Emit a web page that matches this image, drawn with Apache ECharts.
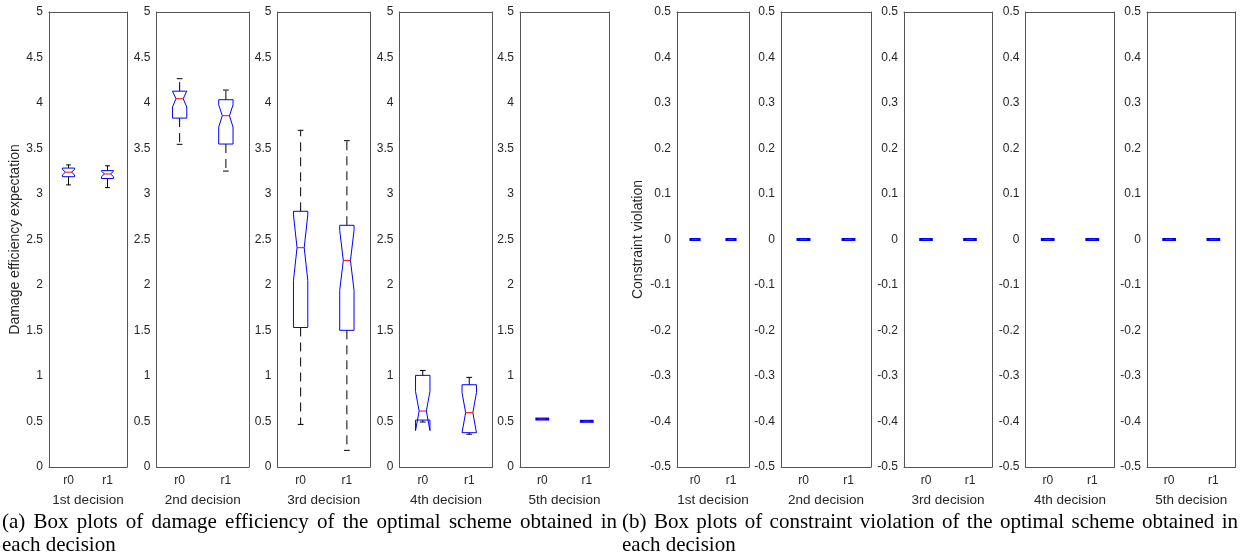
<!DOCTYPE html>
<html><head><meta charset="utf-8">
<script src="https://cdn.jsdelivr.net/npm/echarts@6/dist/echarts.min.js"></script>
<style>html,body{margin:0;padding:0;background:#fff}#c{width:1242px;height:560px}</style>
</head><body><div id="c"></div>
<script>
// ---------------- data ----------------
const categories = ['r0', 'r1'];
const decisions = ['1st decision', '2nd decision', '3rd decision', '4th decision', '5th decision'];
// each entry: [whiskerLow, q1, median, q3, whiskerHigh, notchLow, notchHigh]
const damageR0 = [
  [3.10, 3.19, 3.24, 3.285, 3.32, 3.21, 3.27],
  [3.546, 3.834, 4.047, 4.13, 4.267, 3.955, 4.13],
  [0.468, 1.533, 2.41, 2.81, 3.70, 2.05, 2.77],
  [0.494, 0.516, 0.615, 1.007, 1.061, 0.40, 0.83],
  [0.527, 0.527, 0.527, 0.527, 0.527, 0.527, 0.527]
];
const damageR1 = [
  [3.07, 3.17, 3.22, 3.257, 3.31, 3.19, 3.25],
  [3.252, 3.549, 3.86, 4.036, 4.142, 3.735, 3.98],
  [0.183, 1.502, 2.27, 2.656, 3.586, 1.94, 2.60],
  [0.36, 0.377, 0.597, 0.904, 0.985, 0.377, 0.817],
  [0.502, 0.502, 0.502, 0.502, 0.502, 0.502, 0.502]
];
const violationR0 = [
  [0, 0, 0, 0, 0, 0, 0], [0, 0, 0, 0, 0, 0, 0], [0, 0, 0, 0, 0, 0, 0],
  [0, 0, 0, 0, 0, 0, 0], [0, 0, 0, 0, 0, 0, 0]
];
const violationR1 = [
  [0, 0, 0, 0, 0, 0, 0], [0, 0, 0, 0, 0, 0, 0], [0, 0, 0, 0, 0, 0, 0],
  [0, 0, 0, 0, 0, 0, 0], [0, 0, 0, 0, 0, 0, 0]
];
const damageYTicks = [0, 0.5, 1, 1.5, 2, 2.5, 3, 3.5, 4, 4.5, 5];
const violationYTicks = [-0.5, -0.4, -0.3, -0.2, -0.1, 0, 0.1, 0.2, 0.3, 0.4, 0.5];
const damageYLabel = 'Damage efficiency expectation';
const violationYLabel = 'Constraint violation';
const captionA = ['(a) Box plots of damage efficiency of the optimal scheme obtained in', 'each decision'];
const captionB = ['(b) Box plots of constraint violation of the optimal scheme obtained in', 'each decision'];

// ---------------- layout / style ----------------
const SANS = '"Liberation Sans", Arial, sans-serif';
const SERIF = '"Liberation Serif", "Times New Roman", serif';
const axisColor = '#555';
const textColor = '#262626';
const leftPanels = [[49, 78], [156.5, 92.5], [277.5, 92.5], [399.5, 93], [520, 89]];
const rightPanels = [[677, 72], [781, 90], [904, 88], [1025.5, 89], [1147, 88.5]];
const TOP = 12, HEIGHT = 455;

const grids = [], xAxes = [], yAxes = [], series = [];

function renderBox(params, api) {
  const cat = api.value(0);
  const py = i => api.coord([cat, api.value(i)])[1];
  const cx = api.coord([cat, 0])[0];
  const band = api.size([1, 0])[0];
  const hw = band * 0.155, nw = hw * 0.5, cw = hw * 0.4;
  const wlo = py(1), q1 = py(2), med = py(3), q3 = py(4), whi = py(5), nlo = py(6), nhi = py(7);
  const ch = [];
  const dash = { stroke: '#000', lineWidth: 1, lineDash: [9, 6], fill: null };
  const solid = { stroke: '#000', lineWidth: 1, fill: null };
  if (q3 - whi > 0.5) {
    ch.push({ type: 'line', shape: { x1: cx, y1: q3, x2: cx, y2: whi }, style: dash });
    ch.push({ type: 'line', shape: { x1: cx - cw, y1: whi, x2: cx + cw, y2: whi }, style: solid });
  }
  if (wlo - q1 > 0.5) {
    ch.push({ type: 'line', shape: { x1: cx, y1: q1, x2: cx, y2: wlo }, style: dash });
    ch.push({ type: 'line', shape: { x1: cx - cw, y1: wlo, x2: cx + cw, y2: wlo }, style: solid });
  }
  if (Math.abs(q1 - q3) < 0.5) {
    ch.push({ type: 'line', shape: { x1: cx - hw, y1: med, x2: cx + hw, y2: med }, style: { stroke: '#0000ff', lineWidth: 3 } });
    ch.push({ type: 'line', shape: { x1: cx - nw, y1: med, x2: cx + nw, y2: med }, style: { stroke: '#b0105a', lineWidth: 1 } });
  } else {
    ch.push({
      type: 'polygon',
      shape: { points: [
        [cx - hw, q3], [cx + hw, q3], [cx + hw, nhi], [cx + nw, med], [cx + hw, nlo], [cx + hw, q1],
        [cx - hw, q1], [cx - hw, nlo], [cx - nw, med], [cx - hw, nhi]
      ] },
      style: { stroke: '#0000ff', lineWidth: 1, fill: null }
    });
    ch.push({ type: 'line', shape: { x1: cx - nw, y1: med, x2: cx + nw, y2: med }, style: { stroke: '#ff0000', lineWidth: 1 } });
  }
  return { type: 'group', children: ch };
}

function addPanel(pos, idx, r0, r1, ticks, yName, yNameGap, name) {
  const g = grids.length;
  grids.push({ left: pos[0], top: TOP, width: pos[1], height: HEIGHT, containLabel: false });
  const tickStyle = { inside: true, length: 5, lineStyle: { color: axisColor, width: 1 } };
  const lineStyle = { show: true, onZero: false, lineStyle: { color: axisColor, width: 1 } };
  xAxes.push({
    gridIndex: g, type: 'category', data: categories, position: 'bottom', boundaryGap: true,
    axisLine: lineStyle, axisTick: Object.assign({ alignWithLabel: true }, tickStyle),
    axisLabel: { color: textColor, fontSize: 12, fontFamily: SANS, margin: 8 },
    splitLine: { show: false },
    name: name, nameLocation: 'middle', nameGap: 26,
    nameTextStyle: { color: textColor, fontSize: 13.5, fontFamily: SANS }
  });
  xAxes.push({
    gridIndex: g, type: 'category', data: categories, position: 'top', boundaryGap: true,
    axisLine: lineStyle, axisTick: Object.assign({ alignWithLabel: true }, tickStyle),
    axisLabel: { show: false }, splitLine: { show: false }
  });
  const mn = ticks[0], mx = ticks[ticks.length - 1];
  const iv = +(ticks[1] - ticks[0]).toFixed(6);
  const fmt = v => { const r = Math.round(v * 10) / 10; return r === 0 ? '0' : String(r); };
  yAxes.push({
    gridIndex: g, type: 'value', min: mn, max: mx, interval: iv, position: 'left',
    axisLine: lineStyle, axisTick: tickStyle,
    axisLabel: { color: textColor, fontSize: 12, fontFamily: SANS, margin: 6, formatter: fmt, showMinLabel: true, showMaxLabel: true },
    splitLine: { show: false },
    name: yName || '', nameLocation: 'middle', nameGap: yNameGap || 0, nameRotate: 90,
    nameTextStyle: { color: textColor, fontSize: 14, fontFamily: SANS }
  });
  yAxes.push({
    gridIndex: g, type: 'value', min: mn, max: mx, interval: iv, position: 'right',
    axisLine: lineStyle, axisTick: tickStyle, axisLabel: { show: false }, splitLine: { show: false }
  });
  series.push({
    type: 'custom', xAxisIndex: 2 * g, yAxisIndex: 2 * g, clip: false,
    renderItem: renderBox, encode: { x: 0, y: [1, 2, 3, 4, 5, 6, 7] },
    data: [[0].concat(r0[idx]), [1].concat(r1[idx])], silent: true
  });
}

leftPanels.forEach((p, i) => addPanel(p, i, damageR0, damageR1, damageYTicks, i === 0 ? damageYLabel : '', 26, decisions[i]));
rightPanels.forEach((p, i) => addPanel(p, i, violationR0, violationR1, violationYTicks, i === 0 ? violationYLabel : '', 32, decisions[i]));

// captions (justified first line)
const FONT_SIZE = 21;
const measureCtx = document.createElement('canvas').getContext('2d');
measureCtx.font = FONT_SIZE + 'px ' + SERIF;
const graphics = [];
function caption(lines, x0, x1, y1, y2) {
  const words = lines[0].split(' ');
  const ws = words.map(w => measureCtx.measureText(w).width);
  const gap = (x1 - x0 - ws.reduce((a, b) => a + b, 0)) / (words.length - 1);
  let x = x0;
  words.forEach((w, i) => {
    graphics.push({ type: 'text', x: x, y: y1, silent: true,
      style: { text: w, fontSize: FONT_SIZE, fontFamily: SERIF, fill: '#000', verticalAlign: 'middle', align: 'left' } });
    x += ws[i] + gap;
  });
  graphics.push({ type: 'text', x: x0, y: y2, silent: true,
    style: { text: lines[1], fontSize: FONT_SIZE, fontFamily: SERIF, fill: '#000', verticalAlign: 'middle', align: 'left' } });
}
caption(captionA, 2, 617, 522, 545);
caption(captionB, 622, 1238, 522, 545);

const chart = echarts.init(document.getElementById('c'), null, { renderer: 'canvas' });
chart.setOption({
  animation: false,
  backgroundColor: '#fff',
  grid: grids, xAxis: xAxes, yAxis: yAxes, series: series,
  graphic: graphics
});
</script>
</body></html>
